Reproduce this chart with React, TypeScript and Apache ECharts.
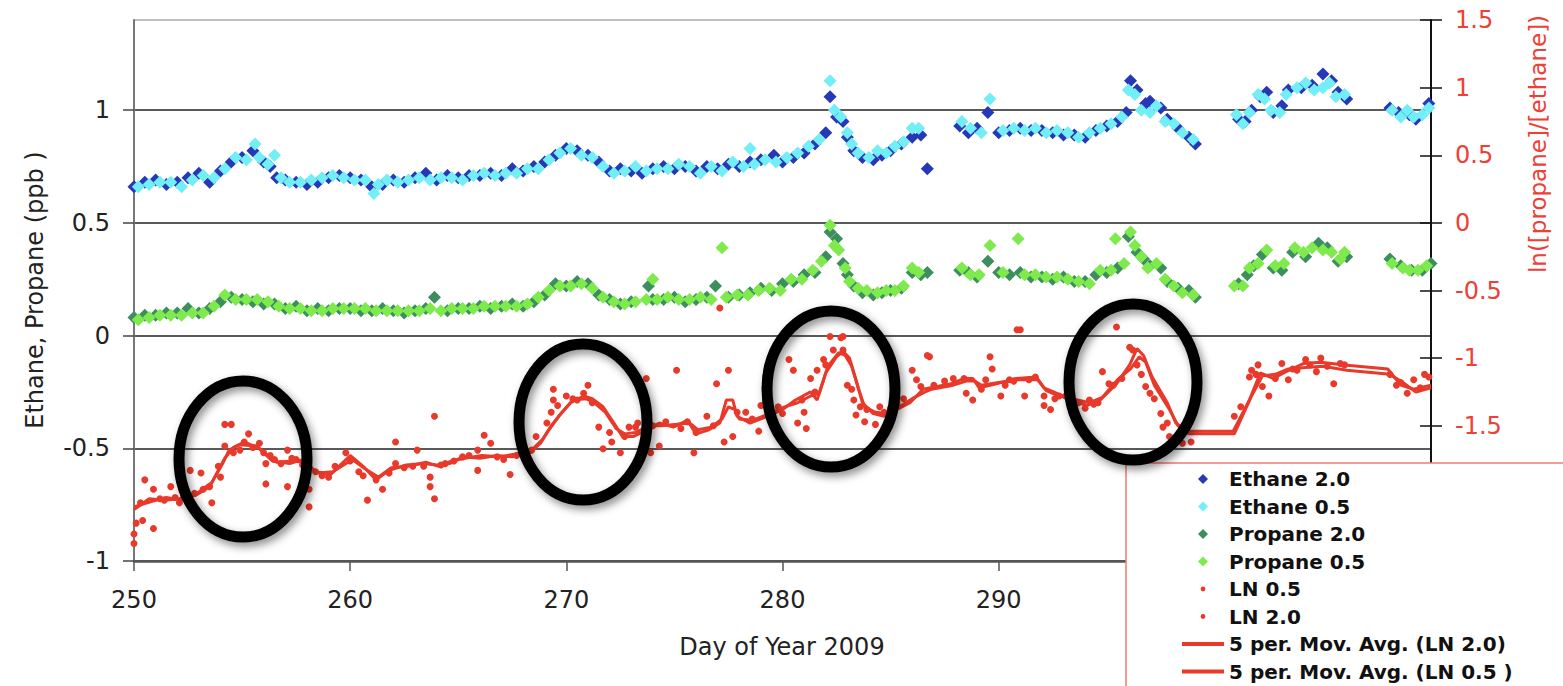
import React, { useEffect, useRef } from "react";
import * as echarts from "echarts";

const X_MIN = 250;
const X_MAX = 310;
// Tick labels that the legend box hides in the reference
const X_LABEL_LAST_VISIBLE = 290;
const RIGHT_LABEL_LOWEST_VISIBLE = -1.5;

const ETHANE_20 = [
  [250.0,0.66],[250.5,0.68],[251.0,0.69],[251.5,0.67],[252.0,0.68],[252.5,0.70],[253.0,0.72],[253.5,0.68],[254.0,0.73],[254.5,0.77],
  [255.0,0.79],[255.5,0.82],[256.0,0.77],[256.3,0.75],[256.6,0.70],[257.0,0.69],[257.5,0.68],[258.0,0.67],[258.5,0.68],[259.0,0.70],
  [259.5,0.71],[260.0,0.70],[260.5,0.69],[261.0,0.66],[261.5,0.67],[262.0,0.69],[262.5,0.68],[263.0,0.70],[263.5,0.72],[264.0,0.69],
  [264.5,0.71],[265.0,0.70],[265.5,0.71],[266.0,0.71],[266.5,0.72],[267.0,0.71],[267.5,0.74],[268.0,0.73],[268.5,0.75],[269.0,0.77],
  [269.5,0.80],[270.0,0.83],[270.5,0.82],[271.0,0.80],[271.5,0.77],[272.0,0.73],[272.5,0.74],[273.0,0.73],[273.5,0.72],[274.0,0.74],
  [274.5,0.75],[275.0,0.74],[275.5,0.75],[276.0,0.73],[276.5,0.75],[277.0,0.74],[277.5,0.76],[278.0,0.75],[278.5,0.77],[279.0,0.78],
  [279.6,0.80],[280.0,0.77],[280.5,0.79],[281.0,0.81],[281.5,0.85],[282.0,0.90],[282.2,1.06],[282.5,0.97],[282.8,0.95],[283.0,0.88],
  [283.3,0.82],[283.7,0.79],[284.2,0.78],[284.6,0.80],[285.0,0.82],[285.5,0.85],[286.0,0.88],[286.4,0.89],[286.7,0.74],
  [288.2,0.93],[288.6,0.90],[289.0,0.92],[289.5,0.99],[290.0,0.90],[290.5,0.91],[291.0,0.92],[291.5,0.91],[292.0,0.91],[292.5,0.90],
  [293.0,0.89],[293.5,0.89],[294.0,0.88],[294.5,0.91],[295.0,0.93],[295.5,0.95],[295.9,0.99],[296.1,1.13],[296.4,1.09],[296.8,1.03],
  [297.0,1.04],[297.5,1.01],[297.8,0.96],[298.3,0.92],[298.8,0.88],[299.1,0.85],
  [301.1,0.96],[301.4,0.95],[301.7,1.00],[302.1,1.06],[302.4,1.08],[302.7,0.99],[303.1,1.02],[303.4,1.09],[304.0,1.10],[304.5,1.11],
  [305.0,1.16],[305.4,1.13],[305.7,1.08],[306.1,1.05],
  [308.1,1.01],[308.5,0.99],[309.0,0.98],[309.3,0.96],[309.9,1.03]
];

const ETHANE_05 = [
  [250.2,0.66],[250.7,0.67],[251.2,0.68],[251.7,0.68],[252.2,0.66],[252.7,0.69],[253.2,0.71],[253.7,0.70],[254.2,0.74],[254.7,0.79],
  [255.2,0.78],[255.6,0.85],[255.8,0.79],[256.2,0.76],[256.5,0.80],[256.8,0.70],[257.2,0.68],[257.7,0.68],[258.2,0.69],[258.7,0.70],
  [259.2,0.71],[259.7,0.70],[260.2,0.69],[260.7,0.69],[261.1,0.63],[261.3,0.67],[261.7,0.69],[262.2,0.68],[262.7,0.69],[263.2,0.70],
  [263.7,0.69],[264.2,0.70],[264.7,0.70],[265.2,0.69],[265.7,0.71],[266.2,0.72],[266.7,0.71],[267.2,0.72],[267.7,0.72],[268.2,0.74],
  [268.7,0.74],[269.2,0.78],[269.7,0.81],[270.2,0.83],[270.7,0.80],[271.2,0.79],[271.7,0.75],[272.2,0.72],[272.7,0.73],[273.2,0.75],
  [273.7,0.73],[274.2,0.74],[274.7,0.74],[275.2,0.76],[275.7,0.75],[276.2,0.72],[276.7,0.75],[277.2,0.73],[277.7,0.77],[278.2,0.75],
  [278.5,0.83],[278.7,0.76],[279.2,0.78],[279.7,0.77],[280.2,0.79],[280.7,0.81],[281.2,0.84],[281.7,0.87],[282.2,1.13],[282.4,1.00],
  [282.7,0.97],[283.0,0.90],[283.2,0.85],[283.5,0.81],[284.0,0.79],[284.4,0.82],[284.8,0.81],[285.2,0.84],[285.6,0.86],[286.0,0.92],
  [286.3,0.92],
  [288.3,0.95],[288.7,0.92],[289.2,0.90],[289.6,1.05],[290.2,0.91],[290.7,0.92],[291.2,0.91],[291.7,0.92],[292.2,0.90],[292.7,0.91],
  [293.2,0.90],[293.7,0.88],[294.2,0.90],[294.7,0.92],[295.2,0.94],[295.7,0.97],[296.0,1.09],[296.3,1.07],[296.6,1.00],[297.0,0.99],
  [297.3,1.02],[297.7,0.95],[298.1,0.94],[298.5,0.90],[299.0,0.87],
  [301.0,0.98],[301.3,0.94],[301.6,0.99],[302.0,1.07],[302.3,1.05],[302.6,1.00],[303.0,0.99],[303.3,1.07],[303.8,1.10],[304.2,1.12],
  [304.6,1.09],[305.0,1.10],[305.3,1.12],[305.6,1.06],[306.0,1.07],
  [308.2,1.00],[308.6,0.97],[308.9,1.00],[309.2,0.97],[309.6,0.98],[309.9,1.01]
];

const PROPANE_20 = [
  [250.0,0.08],[250.5,0.09],[251.0,0.09],[251.5,0.10],[252.0,0.10],[252.5,0.12],[253.0,0.10],[253.5,0.12],[254.0,0.15],[254.5,0.17],
  [255.0,0.16],[255.5,0.15],[256.0,0.14],[256.5,0.14],[257.0,0.12],[257.5,0.13],[258.0,0.11],[258.5,0.12],[259.0,0.11],[259.5,0.12],
  [260.0,0.12],[260.5,0.11],[261.0,0.11],[261.5,0.12],[262.0,0.11],[262.5,0.10],[263.0,0.11],[263.5,0.12],[263.9,0.17],[264.5,0.11],
  [265.0,0.12],[265.5,0.12],[266.0,0.13],[266.5,0.12],[267.0,0.13],[267.5,0.14],[268.0,0.13],[268.5,0.15],[269.0,0.18],[269.5,0.23],
  [270.0,0.22],[270.5,0.24],[271.0,0.23],[271.5,0.18],[272.0,0.16],[272.5,0.14],[273.0,0.15],[273.8,0.22],[274.0,0.16],[274.5,0.16],
  [275.0,0.17],[275.5,0.15],[276.0,0.16],[276.5,0.17],[276.9,0.22],[277.5,0.17],[278.0,0.18],[278.5,0.19],[279.0,0.21],[279.5,0.20],
  [280.0,0.23],[280.5,0.24],[281.0,0.27],[281.5,0.28],[282.0,0.35],[282.2,0.46],[282.5,0.43],[282.8,0.32],[283.0,0.27],[283.3,0.22],
  [283.7,0.19],[284.2,0.18],[284.6,0.19],[285.0,0.20],[285.5,0.21],[286.0,0.28],[286.4,0.27],[286.7,0.28],
  [288.2,0.29],[288.6,0.28],[289.0,0.26],[289.5,0.33],[290.0,0.28],[290.5,0.27],[291.0,0.28],[291.5,0.26],[292.0,0.26],[292.5,0.25],
  [293.0,0.26],[293.5,0.24],[294.0,0.24],[294.5,0.27],[295.0,0.28],[295.5,0.30],[296.0,0.44],[296.4,0.37],[296.7,0.34],[297.0,0.31],
  [297.5,0.30],[297.8,0.24],[298.3,0.21],[298.8,0.20],[299.1,0.17],
  [301.1,0.23],[301.5,0.27],[301.8,0.31],[302.2,0.36],[302.7,0.30],[303.1,0.29],[303.6,0.37],[304.2,0.35],[304.8,0.41],[305.2,0.39],
  [305.7,0.33],[306.1,0.35],
  [308.1,0.34],[308.6,0.31],[309.1,0.29],[309.6,0.29],[310.0,0.32]
];

const PROPANE_05 = [
  [250.2,0.07],[250.7,0.08],[251.2,0.09],[251.7,0.09],[252.2,0.09],[252.7,0.10],[253.2,0.10],[253.7,0.13],[254.2,0.18],[254.7,0.16],
  [255.2,0.16],[255.7,0.16],[256.2,0.15],[256.7,0.13],[257.2,0.12],[257.7,0.12],[258.2,0.11],[258.7,0.11],[259.2,0.12],[259.7,0.12],
  [260.2,0.12],[260.7,0.12],[261.2,0.11],[261.7,0.11],[262.2,0.11],[262.7,0.11],[263.2,0.11],[263.7,0.12],[264.2,0.11],[264.7,0.12],
  [265.2,0.12],[265.7,0.12],[266.2,0.13],[266.7,0.13],[267.2,0.13],[267.7,0.13],[268.2,0.14],[268.7,0.17],[269.2,0.20],[269.7,0.22],
  [270.2,0.22],[270.7,0.23],[271.2,0.21],[271.7,0.17],[272.2,0.15],[272.7,0.14],[273.2,0.15],[273.7,0.16],[274.0,0.25],[274.2,0.16],
  [274.7,0.17],[275.2,0.16],[275.7,0.16],[276.2,0.17],[276.7,0.16],[277.2,0.39],[277.4,0.17],[277.9,0.18],[278.4,0.18],[278.9,0.20],
  [279.4,0.21],[279.9,0.20],[280.4,0.25],[280.9,0.25],[281.4,0.29],[281.8,0.33],[282.2,0.49],[282.4,0.40],[282.6,0.38],[282.9,0.30],
  [283.1,0.24],[283.5,0.21],[283.9,0.20],[284.4,0.19],[284.8,0.20],[285.2,0.20],[285.6,0.22],[286.0,0.30],[286.3,0.28],
  [288.3,0.30],[288.7,0.27],[289.1,0.27],[289.6,0.40],[290.2,0.28],[290.9,0.43],[291.2,0.27],[291.7,0.27],[292.2,0.26],[292.7,0.26],
  [293.2,0.25],[293.7,0.24],[294.2,0.23],[294.7,0.29],[295.2,0.29],[295.4,0.43],[295.8,0.32],[296.1,0.46],[296.3,0.40],[296.6,0.35],
  [296.9,0.30],[297.3,0.32],[297.7,0.25],[298.1,0.22],[298.5,0.19],[299.0,0.18],
  [300.9,0.22],[301.3,0.22],[301.6,0.30],[302.0,0.32],[302.4,0.38],[302.8,0.31],[303.2,0.32],[303.7,0.39],[304.1,0.37],[304.5,0.39],
  [305.0,0.38],[305.4,0.37],[305.8,0.34],[306.0,0.37],
  [308.2,0.32],[308.7,0.30],[309.0,0.29],[309.4,0.29],[309.8,0.31]
];

const LN_05 = [
  [249.9,-2.17],[250.0,-2.37],[250.3,-2.07],[250.5,-1.90],[250.9,-2.26],[251.4,-2.05],[251.9,-2.03],[252.3,-2.02],[252.8,-2.00],[253.2,-1.97],
  [253.6,-2.07],[254.0,-1.88],[254.2,-1.49],[254.6,-1.70],[255.1,-1.62],[255.5,-1.66],[256.0,-1.70],[256.1,-1.93],[256.5,-1.75],[257.1,-1.68],
  [257.3,-1.74],[257.8,-1.79],[258.1,-1.97],[258.7,-1.87],[259.3,-1.80],[260.0,-1.76],[260.6,-1.87],[261.2,-1.90],[261.8,-1.85],[262.1,-1.78],
  [262.9,-1.80],[263.4,-1.80],[263.7,-1.95],[263.9,-2.04],[264.4,-1.78],[265.2,-1.73],[265.9,-1.68],[266.2,-1.57],[266.8,-1.73],[267.4,-1.86],
  [268.1,-1.75],[268.6,-1.58],[269.3,-1.40],[269.4,-1.23],
  [270.3,-1.30],[270.8,-1.26],[271.2,-1.33],[271.7,-1.67],[272.1,-1.62],[272.7,-1.58],[273.2,-1.51],[273.7,-1.15],[274.0,-1.50],[274.6,-1.47],
  [275.3,-1.52],[275.9,-1.70],[276.5,-1.43],[276.95,-1.19],[277.3,-1.62],[277.7,-1.58],[278.3,-1.40],[278.9,-1.54],[279.4,-1.40],[280.0,-1.41],
  [280.5,-1.09],[280.9,-1.31],[281.1,-1.52],[281.5,-1.25],[281.9,-1.01],[282.2,-0.84],[282.7,-0.85],[282.8,-0.84],[283.2,-1.23],[283.4,-1.42],
  [283.8,-1.47],[284.3,-1.49],[284.7,-1.40],[285.3,-1.33],[286.0,-1.09],[286.4,-1.21],
  [286.8,-0.99],[287.5,-1.17],[288.4,-1.15],[288.8,-1.31],[289.4,-1.16],[289.7,-1.08],[290.3,-1.20],[290.7,-1.17],[291.0,-0.79],[291.4,-1.16],
  [292.1,-1.28],[292.4,-1.38],[292.8,-1.28],[293.4,-1.31],[294.0,-1.37],[294.4,-1.34],[294.8,-1.10],[295.3,-1.20],[295.7,-1.15],[296.2,-0.94],
  [296.6,-1.12],[297.0,-1.26],[297.5,-1.41],[297.8,-1.48],[298.5,-1.63],[300.9,-1.43],[301.6,-1.14],[301.9,-1.12],[302.2,-1.21],[302.8,-1.15],
  [303.4,-1.16],[303.8,-1.09],[304.4,-1.05],[304.9,-1.00],[305.5,-1.19],[306.0,-1.05],[308.4,-1.20],[308.9,-1.26],[309.5,-1.22],[309.9,-1.14]
];

const LN_20 = [
  [250.0,-2.30],[250.1,-2.22],[250.4,-2.20],[250.9,-1.97],[251.2,-2.04],[251.7,-1.95],[252.1,-2.07],[252.6,-1.83],[253.1,-1.85],[253.5,-1.95],
  [253.9,-1.80],[254.2,-1.65],[254.5,-1.49],[254.9,-1.68],[255.3,-1.56],[255.8,-1.63],[256.1,-1.78],[256.3,-1.72],[256.8,-1.78],[257.1,-1.95],
  [257.5,-1.75],[258.1,-2.10],[258.4,-1.84],[259.0,-1.88],[259.8,-1.70],[260.4,-1.84],[260.8,-2.05],[261.5,-1.97],[262.1,-1.62],[262.5,-1.81],
  [263.1,-1.68],[263.7,-1.88],[263.9,-1.43],[264.2,-1.79],[264.8,-1.76],[265.5,-1.72],[265.9,-1.83],[266.5,-1.63],[267.1,-1.75],[267.7,-1.72],
  [268.4,-1.68],[269.1,-1.48],[269.4,-1.31],[269.6,-1.35],
  [270.0,-1.28],[270.5,-1.31],[271.0,-1.20],[271.5,-1.51],[272.0,-1.55],[272.5,-1.70],[272.9,-1.51],[273.3,-1.48],[273.9,-1.70],[274.3,-1.65],
  [275.1,-1.09],[275.6,-1.47],[276.0,-1.55],[276.8,-1.50],[277.1,-0.63],[277.5,-1.09],[277.9,-1.40],[278.6,-1.45],[279.0,-1.35],[279.8,-1.36],
  [280.3,-1.01],[280.7,-1.48],[281.0,-1.40],[281.3,-1.15],[281.6,-1.09],[282.0,-1.05],[282.35,-0.94],[282.8,-0.94],[283.0,-1.20],[283.3,-1.31],
  [283.6,-1.36],[283.9,-1.38],[284.5,-1.36],[285.0,-1.37],[285.6,-1.30],[286.2,-1.16],[286.7,-0.98],
  [287.0,-1.20],[287.9,-1.15],[288.5,-1.26],[289.2,-1.23],[289.6,-0.99],[290.1,-1.28],[290.5,-1.16],[290.85,-0.79],[291.2,-1.28],[291.7,-1.14],
  [292.1,-1.35],[292.6,-1.30],[293.1,-1.28],[293.7,-1.33],[294.2,-1.31],[294.6,-1.33],[295.1,-1.19],[295.45,-0.77],[296.06,-0.92],[296.4,-1.05],
  [296.8,-1.21],[297.2,-1.30],[297.6,-1.51],[297.9,-1.58],[298.9,-1.62],[301.2,-1.36],[301.7,-1.09],[302.0,-1.05],[302.5,-1.28],[303.1,-1.04],
  [303.6,-1.08],[304.2,-1.01],[304.7,-1.10],[305.2,-1.06],[305.8,-1.04],[308.1,-1.12],[308.6,-1.18],[309.2,-1.16],[309.7,-1.12]
];

const MA_LN_20 = [
  [250.0,-2.12],[250.7,-2.04],[251.4,-2.05],[252.1,-2.04],[252.9,-2.01],[253.5,-1.95],[254.1,-1.78],[254.4,-1.68],[254.9,-1.64],[255.7,-1.65],
  [256.0,-1.70],[256.4,-1.76],[257.2,-1.78],[257.8,-1.75],[258.4,-1.84],[259.1,-1.86],[260.0,-1.72],[260.6,-1.80],[261.2,-1.90],[261.8,-1.83],
  [262.6,-1.79],[263.4,-1.78],[264.0,-1.79],[264.6,-1.78],[265.2,-1.73],[266.0,-1.74],[266.8,-1.72],[267.5,-1.73],[268.3,-1.70],[268.8,-1.63],
  [269.2,-1.53],[269.7,-1.42],[270.2,-1.33],[270.8,-1.28],[271.2,-1.30],[271.7,-1.36],[272.2,-1.48],[272.6,-1.58],[273.1,-1.58],[273.7,-1.53],
  [274.3,-1.48],[274.95,-1.51],[275.6,-1.46],[276.0,-1.56],[276.6,-1.53],[277.1,-1.48],[277.4,-1.31],[277.7,-1.31],[277.9,-1.43],[278.5,-1.48],
  [279.3,-1.43],[280.0,-1.38],[280.6,-1.31],[281.3,-1.25],[281.6,-1.31],[282.0,-1.11],[282.5,-0.99],[282.8,-0.95],[283.1,-1.00],[283.4,-1.16],
  [283.7,-1.33],[284.2,-1.41],[284.7,-1.43],[285.3,-1.38],[285.9,-1.33],[286.5,-1.23],[286.8,-1.22],[287.8,-1.19],[288.4,-1.15],[288.8,-1.15],
  [289.1,-1.22],[289.9,-1.19],[290.8,-1.15],[291.75,-1.14],[292.1,-1.22],[292.7,-1.26],[293.3,-1.31],[294.1,-1.35],[294.7,-1.31],[295.45,-1.19],
  [296.06,-1.05],[296.4,-0.93],[296.7,-0.98],[297.1,-1.14],[297.8,-1.33],[298.2,-1.48],[298.7,-1.54],[300.85,-1.54],[301.6,-1.31],[302.1,-1.11],
  [302.7,-1.15],[303.3,-1.10],[304.1,-1.04],[304.9,-1.03],[306.0,-1.05],[308.0,-1.08],[308.6,-1.20],[309.2,-1.23],[310.0,-1.20]
];

const MA_LN_05 = [
  [250.0,-2.10],[250.8,-2.06],[251.5,-2.03],[252.2,-2.05],[253.0,-1.99],[253.6,-1.92],[254.2,-1.74],[254.6,-1.66],[255.1,-1.62],[255.8,-1.67],
  [256.2,-1.72],[256.6,-1.77],[257.3,-1.76],[257.9,-1.77],[258.5,-1.85],[259.2,-1.84],[260.1,-1.75],[260.7,-1.82],[261.3,-1.88],[261.9,-1.81],
  [262.7,-1.80],[263.5,-1.77],[264.1,-1.80],[264.7,-1.76],[265.3,-1.74],[266.1,-1.72],[266.9,-1.73],[267.6,-1.71],[268.4,-1.68],[268.9,-1.60],
  [269.3,-1.50],[269.8,-1.40],[270.3,-1.31],[270.9,-1.30],[271.3,-1.33],[271.8,-1.40],[272.3,-1.52],[272.7,-1.56],[273.2,-1.55],[273.8,-1.50],
  [274.4,-1.50],[275.0,-1.49],[275.7,-1.48],[276.1,-1.53],[276.7,-1.51],[277.2,-1.45],[277.5,-1.36],[277.8,-1.38],[278.0,-1.45],[278.6,-1.46],
  [279.4,-1.41],[280.1,-1.36],[280.7,-1.33],[281.3,-1.28],[281.7,-1.26],[282.1,-1.06],[282.6,-0.96],[282.9,-0.98],[283.2,-1.06],[283.5,-1.22],
  [283.8,-1.36],[284.3,-1.40],[284.8,-1.41],[285.4,-1.36],[286.0,-1.30],[286.6,-1.25],[286.9,-1.23],[287.9,-1.20],[288.5,-1.17],[288.9,-1.17],
  [289.2,-1.20],[290.0,-1.18],[290.9,-1.16],[291.8,-1.16],[292.2,-1.24],[292.8,-1.28],[293.4,-1.30],[294.2,-1.33],[294.8,-1.29],[295.5,-1.16],
  [296.1,-1.08],[296.5,-0.99],[296.8,-1.03],[297.2,-1.20],[297.9,-1.38],[298.3,-1.50],[298.8,-1.56],[300.9,-1.56],[301.7,-1.28],[302.2,-1.13],
  [302.8,-1.12],[303.4,-1.08],[304.2,-1.07],[305.0,-1.06],[306.1,-1.09],[308.1,-1.12],[308.7,-1.18],[309.3,-1.25],[310.0,-1.22]
];

const LEGEND_NAMES = [
  "Ethane 2.0",
  "Ethane 0.5",
  "Propane 2.0",
  "Propane 0.5",
  "LN 0.5",
  "LN 2.0",
  "5 per. Mov. Avg. (LN 2.0)",
  "5 per. Mov. Avg. (LN 0.5 )",
];

const LEFT_TITLE = "Ethane, Propane (ppb )";
const RIGHT_TITLE = "ln([propane]/[ethane])";
const X_TITLE = "Day of Year 2009";

const C_ETH20 = "#2638b8";
const C_ETH05 = "#72eef6";
const C_PRO20 = "#3c8e5e";
const C_PRO05 = "#7eea4c";
const C_LN = "#e8392b";
const C_AXRED = "#ee4036";

const FONT = "DejaVu Sans";

const DIAMOND_ICON = "path://M0,0M14,14M7,2L12,7L7,12L2,7Z";
const DOT_ICON = "path://M0,0M14,14M7,4.6A2.4,2.4,0,1,1,7,9.4A2.4,2.4,0,1,1,7,4.6Z";

export default function App() {
  const ref = useRef<HTMLDivElement>(null);

  useEffect(() => {
    if (!ref.current) return;
    const chart = echarts.init(ref.current, null, { renderer: "svg" });

    const ellipse = (cx: number, cy: number) => ({
      type: "ellipse",
      z: 60,
      shape: { cx, cy, rx: 64, ry: 78 },
      style: {
        fill: "none",
        stroke: "#000",
        lineWidth: 11,
        shadowBlur: 8,
        shadowColor: "rgba(0,0,0,0.45)",
        shadowOffsetX: 3,
        shadowOffsetY: 4,
      },
    });

    const scatter = (name: string, data: number[][], color: string, size: number, symbol: string, yAxisIndex: number) => ({
      name,
      type: "scatter",
      data,
      symbol,
      symbolSize: size,
      yAxisIndex,
      itemStyle: { color, opacity: 1 },
      emphasis: { disabled: true },
    });

    const line = (name: string, data: number[][]) => ({
      name,
      type: "line",
      data,
      yAxisIndex: 1,
      symbol: "none",
      lineStyle: { color: C_LN, width: 3 },
      itemStyle: { color: C_LN },
      emphasis: { disabled: true },
    });

    const hiddenSymbol = { color: "rgba(0,0,0,0)", borderColor: "rgba(0,0,0,0)", borderWidth: 0 };

    const option: any = {
      animation: false,
      backgroundColor: "#ffffff",
      grid: { left: 134, right: 132, top: 20, bottom: 125, outerBoundsMode: "none", containLabel: false },
      xAxis: {
        type: "value",
        min: X_MIN,
        max: X_MAX,
        interval: 10,
        axisLine: { show: true, onZero: false, lineStyle: { color: "#555", width: 2.5 } },
        axisTick: { show: true, length: 10, lineStyle: { color: "#555", width: 1.5 } },
        axisLabel: {
          fontFamily: FONT,
          fontSize: 24,
          color: "#222",
          margin: 27,
          formatter: (v: number) => (v > X_LABEL_LAST_VISIBLE ? "" : String(v)),
        },
        splitLine: { show: false },
      },
      yAxis: [
        {
          type: "value",
          position: "left",
          min: -1,
          max: 1.4,
          interval: 0.5,
          axisLine: { show: true, onZero: false, lineStyle: { color: "#777", width: 2 } },
          axisTick: { show: true, length: 11, lineStyle: { color: "#444", width: 1.5 } },
          axisLabel: { fontFamily: FONT, fontSize: 24, color: "#222", margin: 24, showMaxLabel: false },
          splitLine: {
            show: true,
            lineStyle: { color: ["#222", "#222", "#222", "#222", "#222", "#aaa"], width: 1.5 },
          },
        },
        {
          type: "value",
          position: "right",
          min: -2.5,
          max: 1.5,
          interval: 0.5,
          axisLine: { show: true, onZero: false, lineStyle: { color: "#111", width: 2 } },
          axisTick: { show: true, length: 11, lineStyle: { color: "#111", width: 1.5 } },
          axisLabel: {
            fontFamily: FONT,
            fontSize: 24,
            color: C_AXRED,
            margin: 24,
            formatter: (v: number) => (v < RIGHT_LABEL_LOWEST_VISIBLE ? "" : String(v)),
          },
          splitLine: { show: false },
        },
        {
          type: "value",
          position: "right",
          min: -2.5,
          max: 1.5,
          interval: 0.5,
          axisLine: { show: false },
          axisTick: { show: true, inside: true, length: 11, lineStyle: { color: "#111", width: 1.5 } },
          axisLabel: { show: false },
          splitLine: { show: false },
        },
      ],
      legend: {
        show: true,
        orient: "vertical",
        left: 1180,
        top: 469,
        height: 240,
        z: 50,
        padding: 0,
        itemWidth: 42,
        itemHeight: 14,
        itemGap: 7.5,
        selectedMode: false,
        textStyle: { fontFamily: FONT, fontWeight: "bold", fontSize: 20, lineHeight: 20, color: "#111" },
        data: [
          { name: LEGEND_NAMES[0], icon: DIAMOND_ICON },
          { name: LEGEND_NAMES[1], icon: DIAMOND_ICON },
          { name: LEGEND_NAMES[2], icon: DIAMOND_ICON },
          { name: LEGEND_NAMES[3], icon: DIAMOND_ICON },
          { name: LEGEND_NAMES[4], icon: DOT_ICON },
          { name: LEGEND_NAMES[5], icon: DOT_ICON },
          { name: LEGEND_NAMES[6], lineStyle: { width: 4 }, itemStyle: hiddenSymbol },
          { name: LEGEND_NAMES[7], lineStyle: { width: 4 }, itemStyle: hiddenSymbol },
        ],
      },
      series: [
        scatter(LEGEND_NAMES[0], ETHANE_20, C_ETH20, 13, "diamond", 0),
        scatter(LEGEND_NAMES[1], ETHANE_05, C_ETH05, 13, "diamond", 0),
        scatter(LEGEND_NAMES[2], PROPANE_20, C_PRO20, 13, "diamond", 0),
        scatter(LEGEND_NAMES[3], PROPANE_05, C_PRO05, 13, "diamond", 0),
        scatter(LEGEND_NAMES[4], LN_05, C_LN, 7, "circle", 1),
        scatter(LEGEND_NAMES[5], LN_20, C_LN, 7, "circle", 1),
        line(LEGEND_NAMES[6], MA_LN_20),
        line(LEGEND_NAMES[7], MA_LN_05),
      ],
      graphic: [
        {
          type: "rect",
          z: 40,
          shape: { x: 1126, y: 463, width: 460, height: 240 },
          style: { fill: "#ffffff", stroke: "#f07a70", lineWidth: 1.5 },
        },
        ellipse(243, 459),
        ellipse(583, 422),
        ellipse(831, 389),
        ellipse(1133, 382),
        {
          type: "text",
          x: 35,
          y: 290,
          rotation: Math.PI / 2,
          style: {
            text: LEFT_TITLE,
            fontFamily: FONT,
            fontSize: 24,
            fill: "#222",
            align: "center",
            verticalAlign: "middle",
            textAlign: "center",
            textVerticalAlign: "middle",
          },
        },
        {
          type: "text",
          x: 1538,
          y: 144,
          rotation: Math.PI / 2,
          style: {
            text: RIGHT_TITLE,
            fontFamily: FONT,
            fontSize: 23,
            fill: C_AXRED,
            align: "center",
            verticalAlign: "middle",
            textAlign: "center",
            textVerticalAlign: "middle",
          },
        },
        {
          type: "text",
          x: 782,
          y: 647,
          style: {
            text: X_TITLE,
            fontFamily: FONT,
            fontSize: 24,
            fill: "#222",
            align: "center",
            verticalAlign: "middle",
            textAlign: "center",
            textVerticalAlign: "middle",
          },
        },
      ],
    };

    chart.setOption(option);
    return () => chart.dispose();
  }, []);

  return (
    <div
      ref={ref}
      style={{ position: "fixed", left: 0, top: 0, width: 1563, height: 686, background: "#fff" }}
    />
  );
}
